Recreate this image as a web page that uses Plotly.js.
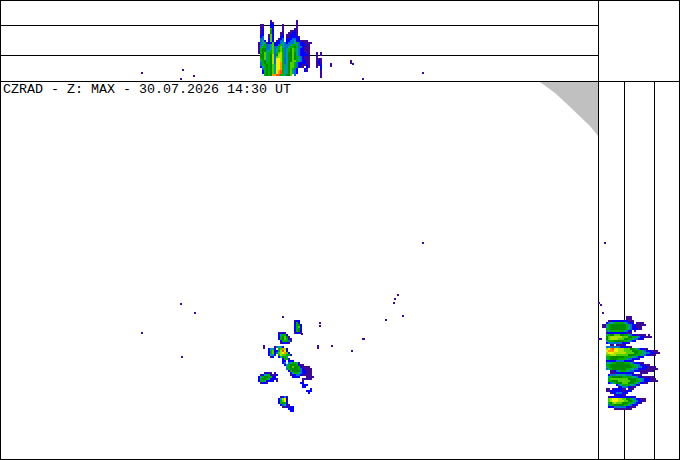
<!DOCTYPE html>
<html><head><meta charset="utf-8">
<script src="https://cdn.plot.ly/plotly-3.0.1.min.js"></script>
<style>html,body{margin:0;padding:0;background:#fff}#c{width:680px;height:460px}</style></head>
<body><div id="c"></div>
<script>
const levelColors=['#3c0a96','#0000ff','#0070d0','#00a090','#00b000','#008c00','#50d000','#a8e000','#f0f000','#ff9600','#ff5000'];
const titleText='CZRAD - Z: MAX - 30.07.2026 14:30 UT';
const topRows=[
"......1............1",
"......21...........1",
".11...22....1......1",
".11...22....1......1",
".12...52....1.....11",
".12...62....1...1121",
".12...62...11..11221",
".22..172...12.112221",
".23..172...22.1122221",
".33..272..123.2223322",
".342.272.1233.22334221111",
"134412272223432333453221111",
"13453347223543334554322211",
"14553347335743345565332111",
"15663347345753456754322111",
"15664457346753456754322111",
"15674557357853466764322211",
".6674568368853466764322221",
".6674568378853466765432111",
".5674568399853466765432111",
".4564568399853466775432211",
".3565568399a53467753222211",
".3556567499a54467753221121",
".2456567499a54467753211.21",
"..356567499a54467532...21",
"..25656749ab54467432...21",
"..25656749ab54467432",
"...5656aabb554667.3"
];
const stragRows=["1.1","1.1","1..","111","121","121","112","1.2","..2","..1","..1","..1","..1"];
const sideRows=[
"............111",
"............111",
"...1122222222111",
"..23445555543222.1111",
"1145666666665432211111",
"11456666666654322111",
"..556666666654322211",
"..3455555554322.1",
"..1222222222111",
"..45667776655432211111.1",
"..67888888777665543221111",
"..6788887776655433221",
"..455566666554322",
"..233333332221",
"....11.11111",
"..3333333222211",
"..89ab99888777665432211",
"..9aaa9988877776665543222111",
"..899988888877776655443322111",
"..7788877777766665544322111",
"..5566666665555443222",
"..45666655554332221",
"..22222333322221",
"..4445566665554322211",
"..5566666666665544322111",
"..4566666666666554332221111",
"..34566666665544332222111111",
"....1123455544332221111111",
"....111222222221...1111",
"...23334444433322111",
"...45666665555544322111111",
"...577777777766665443222111",
"...5566677777766655432221111",
"...23456667776665432211",
".......234555544321",
"........123332211",
"..11.1222211.111",
"..1122222211222",
"....122333222",
"......122211",
"...12222222222221",
"...7899988776654322111",
"...7899988877665432211",
"...56787776665543221",
"...355666665543221",
"...22233333322111",
"......111111111"
];
const mapRows=[
"..................122",
"..................252",
"..................2562",
"..................2572",
"..................2562",
"..................2562",
"..........1121....1221",
"..........24552",
"..........256761",
"..........2567521",
"...........255531",
"...........12221",
"",
"........13442",
".....2442.57a82",
".....2572258b92",
".....25723789a72",
".....2442.5877552",
"......12..24654",
"............2552",
"............22.222",
"............23.345541",
".............2456665211",
"..............456766521111",
"..............3566665321111",
"...............256666322111",
"...1211.1.......24554322111",
".124452112......12233211111",
"245665522........2222...1111",
"2566542221............11111",
"25542222.1............1",
".1221................22",
"......................222",
"......................22",
"..........................2",
"........................222",
".........................2",
"",
"...........1231",
"..........24892",
"..........25792",
"..........25652",
"...........23421",
"............112122",
"...............222",
"................22"
];
const speckX=[283,320,320,363,318,318,332,352,302,264,264,423,398,395,394,386,403,181,195,142,182,364,331,331,351,353,351,363,142,181,194,183,423,599,601,603,599,601,605];
const speckY=[317,323,326,339,346,348,346,351,334,346,348,243,295,299,303,320,316,304,313,333,357,339,64,66,61,64,63,79,73,79,76,70,73,303,305,313,339,339,243];
const wedgeX=[540,555,568,582,590,598,598,540];
const wedgeY=[82,93,105,118,126,136,82,82];

function toZ(rows){
  const w=Math.max(...rows.map(r=>r.length));
  return rows.map(r=>r.padEnd(w,'.').split('').map(ch=>ch==='.'?null:parseInt(ch,16)));
}
const n=levelColors.length;
const cs=[];
levelColors.forEach((c,i)=>{cs.push([i/n,c]);cs.push([(i+1)/n,c]);});
const hm=(rows,x0,y0,dx,dy)=>({type:'heatmap',z:toZ(rows),x0:x0+dx/2,dx,y0:y0+dy/2,dy,zmin:0.5,zmax:n+0.5,
  colorscale:cs,showscale:false,hoverinfo:'skip',zsmooth:false});
const data=[
 {type:'scatter',mode:'lines',x:wedgeX,y:wedgeY,fill:'toself',fillcolor:'#c0c0c0',line:{width:0},hoverinfo:'skip'},
 hm(topRows,258,20,2,2),
 hm(stragRows,316,52,2,2),
 hm(sideRows,602,316,2,2),
 hm(mapRows,258,320,2,2),
 {type:'scatter',mode:'markers',x:speckX,y:speckY,marker:{symbol:'square',size:2,color:levelColors[0]},hoverinfo:'skip'}
];
const ln=(x0,y0,x1,y1)=>({type:'line',xref:'x',yref:'y',x0,y0,x1,y1,line:{color:'#000',width:1},layer:'below'});
const shapes=[
 ln(0,25.5,598,25.5),ln(0,55.5,598,55.5),ln(0,81.5,680,81.5),
 ln(598.5,0,598.5,460),ln(624.5,81,624.5,460),ln(654.5,81,654.5,460),
 ln(0,0.5,680,0.5),ln(0.5,0,0.5,460),ln(679.5,0,679.5,460),ln(0,459.5,680,459.5)
];
const layout={width:680,height:460,margin:{l:0,r:0,t:0,b:0},paper_bgcolor:'#fff',plot_bgcolor:'rgba(0,0,0,0)',showlegend:false,
 xaxis:{range:[0,680],visible:false,fixedrange:true},
 yaxis:{range:[460,0],visible:false,fixedrange:true},
 shapes,
 annotations:[{xref:'x',yref:'y',x:1.5,y:89,xanchor:'left',yanchor:'middle',showarrow:false,text:titleText,
   font:{family:'"Liberation Mono",monospace',size:13.33,color:'#000'},borderpad:0}]
};
Plotly.newPlot('c',data,layout,{staticPlot:true,displayModeBar:false});
</script></body></html>
